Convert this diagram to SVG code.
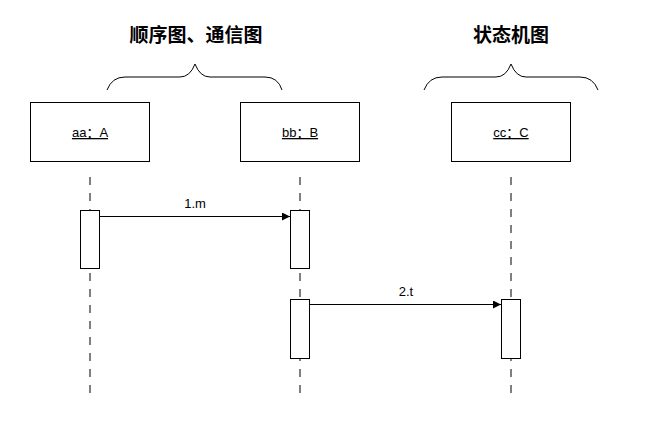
<svg xmlns="http://www.w3.org/2000/svg" width="655" height="423" viewBox="0 0 655 423">
<defs>
<style>
.box{fill:#fff;stroke:#000;stroke-width:1}
.act{fill:#fff;stroke:#000;stroke-width:1}
.life{stroke:#000;stroke-width:1;stroke-dasharray:8 8;fill:none}
.brace{fill:none;stroke:#000;stroke-width:1}
.msg{stroke:#000;stroke-width:1;fill:none;marker-end:url(#arr)}
.lbl{font-family:"Liberation Sans","Noto Sans CJK SC",sans-serif;font-size:13px;fill:#000;text-anchor:middle;text-decoration:underline}
.mlbl{font-family:"Liberation Sans","Noto Sans CJK SC",sans-serif;font-size:13px;fill:#000;text-anchor:middle}
.title{font-family:"Noto Sans CJK SC",sans-serif;font-size:19px;font-weight:bold;fill:#000;text-anchor:middle}
</style>
<marker id="arr" markerWidth="8" markerHeight="8" refX="8" refY="4" orient="auto" markerUnits="userSpaceOnUse">
<path d="M0,0 L8,4 L0,8 Z" fill="#000"/>
</marker>
</defs>
<g id="titles">
<text class="title" x="196" y="42">顺序图、通信图</text>
<text class="title" x="511" y="42">状态机图</text>
</g>
<g id="braces">
<path class="brace" d="M107,90 Q112,77 125,77 L180,77 Q190,77 195,64 Q200,77 210,77 L265,77 Q278,77 282,90"/>
<path class="brace" d="M424,90 Q429,77 442,77 L496,77 Q506,77 511,64 Q516,77 526,77 L580,77 Q593,77 598,90"/>
</g>
<g id="lifelines">
<line class="life" x1="90" y1="177" x2="90" y2="395"/>
<line class="life" x1="300" y1="177" x2="300" y2="395"/>
<line class="life" x1="511" y1="177" x2="511" y2="395"/>
</g>
<g id="nodeA">
<rect class="box" x="30.5" y="102.5" width="119" height="59"/>
<text class="lbl" x="90" y="137">aa：A</text>
</g>
<g id="nodeB">
<rect class="box" x="240.5" y="102.5" width="119" height="59"/>
<text class="lbl" x="300" y="137">bb：B</text>
</g>
<g id="nodeC">
<rect class="box" x="451.5" y="102.5" width="119" height="59"/>
<text class="lbl" x="511" y="137">cc：C</text>
</g>
<g id="actA"><rect class="act" x="80.5" y="210.5" width="19" height="58"/></g>
<g id="actB1"><rect class="act" x="290.5" y="210.5" width="19" height="58"/></g>
<g id="actB2"><rect class="act" x="290.5" y="299.5" width="19" height="59"/></g>
<g id="actC"><rect class="act" x="501.5" y="299.5" width="19" height="59"/></g>
<g id="connectors">
<line class="msg" x1="100" y1="216.5" x2="290" y2="216.5"/>
<text class="mlbl" x="195" y="208">1.m</text>
<line class="msg" x1="310" y1="304.5" x2="501" y2="304.5"/>
<text class="mlbl" x="406" y="296">2.t</text>
</g>
</svg>
